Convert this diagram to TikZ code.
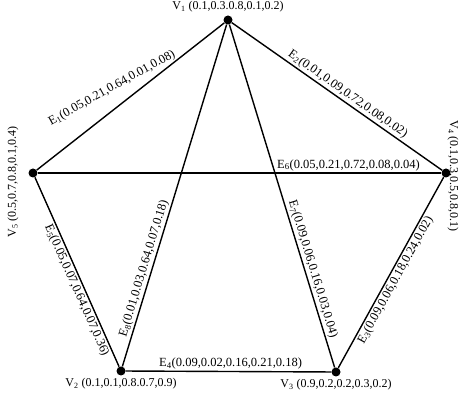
\documentclass[tikz,border=0pt]{standalone}
\usepackage{fontspec}
\setmainfont{Liberation Serif}
\begin{document}
\begin{tikzpicture}[x=1pt,y=-1pt,
  vtx/.style={circle,fill=black,inner sep=0pt,minimum size=9pt},
  edge/.style={line width=1.4pt},
  elab/.style={sloped,inner sep=1.5pt,font=\fontsize{12.5}{14}\selectfont},
  vlab/.style={inner sep=1pt,font=\fontsize{12}{14}\selectfont}]
\useasboundingbox (0,0) rectangle (459,393);
\node[vtx] (v1) at (228,20) {};
\node[vtx] (v5) at (33,173) {};
\node[vtx] (v4) at (446,173) {};
\node[vtx] (v2) at (121,371) {};
\node[vtx] (v3) at (336,372) {};
\draw[edge] (v5) -- (v1);
\node[inner sep=1.5pt,font=\fontsize{12.5}{14}\selectfont,rotate=29] (e1) at (112,88) {E\textsubscript{1}(0.05,0.21,0.64,0.01,0.08)};
\draw[edge] (v1) -- node[elab,above,pos=0.53] {E\textsubscript{2}(0.01,0.09,0.72,0.08,0.02)} (v4);
\draw[edge] (v2) -- node[elab,above,pos=0.28] {E\textsubscript{8}(0.01,0.03,0.64,0.07,0.18)} (v1);
\draw[edge] (v1) -- node[elab,above,pos=0.72] {E\textsubscript{7}(0.09,0.06,0.16,0.03,0.04)} (v3);
\draw[edge] (v5) -- node[elab,above,pos=0.77] {E\textsubscript{6}(0.05,0.21,0.72,0.08,0.04)} (v4);
\draw[edge] (v5) -- node[elab,below,pos=0.58] {E\textsubscript{5}(0.05,0.07,0.64,0.07,0.36)} (v2);
\draw[edge] (v2) -- node[elab,above,pos=0.51] {E\textsubscript{4}(0.09,0.02,0.16,0.21,0.18)} (v3);
\draw[edge] (v3) -- node[elab,below,pos=0.48] {E\textsubscript{3}(0.09,0.06,0.18,0.24,0.02)} (v4);
\node[vlab,above=2pt] (l1) at (v1.north) {V\textsubscript{1} (0.1,0.3.0.8,0.1,0.2)};
\node[vlab,below=1pt] (l2) at (v2.south) {V\textsubscript{2} (0.1,0.1,0.8.0.7,0.9)};
\node[vlab,below=1pt] (l3) at (v3.south) {V\textsubscript{3} (0.9,0.2,0.2,0.3,0.2)};
\node[vlab,rotate=90] (l5) at (13,182) {V\textsubscript{5} (0.5,0.7,0.8,0.1,0.4)};
\node[vlab,rotate=-90] (l4) at (453,176) {V\textsubscript{4} (0.1,0.3,0.5,0.8,0.1)};
\end{tikzpicture}
\end{document}
